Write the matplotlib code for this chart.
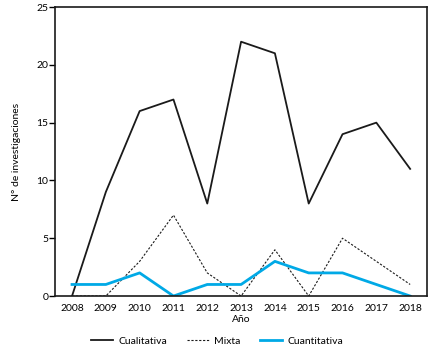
import matplotlib
matplotlib.use("Agg")
import matplotlib.pyplot as plt

years = [2008, 2009, 2010, 2011, 2012, 2013, 2014, 2015, 2016, 2017, 2018]
cualitativa = [0, 9, 16, 17, 8, 22, 21, 8, 14, 15, 11]
mixta = [0, 0, 3, 7, 2, 0, 4, 0, 5, 3, 1]
cuantitativa = [1, 1, 2, 0, 1, 1, 3, 2, 2, 1, 0]
yticks = [0, 5, 10, 15, 20, 25]

plt.rcParams['font.family'] = ['Lato', 'DejaVu Sans']
plt.rcParams['font.size'] = 7.5

fig = plt.figure(figsize=(4.34, 3.52), dpi=100)
ax = fig.add_axes([0.127, 0.159, 0.857, 0.821])

ax.plot(years, cualitativa, color='#1a1a1a', lw=1.3, label='Cualitativa')
ax.plot(years, mixta, color='#1a1a1a', lw=0.8, linestyle=(0, (2, 1.5)), label='Mixta')
ax.plot(years, cuantitativa, color='#00a9e6', lw=2.0, label='Cuantitativa')

ax.set_xlim(2007.5, 2018.5)
ax.set_ylim(0, 25)
ax.set_xticks(years)
ax.set_xticklabels([str(y) for y in years])
ax.set_yticks(yticks)
ax.tick_params(axis='x', length=0, pad=6)
ax.tick_params(axis='y', length=4, width=1, pad=1)
for s in ax.spines.values():
    s.set_linewidth(1.2)
    s.set_color('#1a1a1a')

ax.set_xlabel('Año', labelpad=1)
ax.set_ylabel('N° de investigaciones', labelpad=11)

fig.legend(loc='lower center', bbox_to_anchor=(0.5, -0.01), ncol=3, frameon=False,
           handlelength=2.1, columnspacing=1.9, handletextpad=0.5)

fig.savefig('out.png', dpi=100)
